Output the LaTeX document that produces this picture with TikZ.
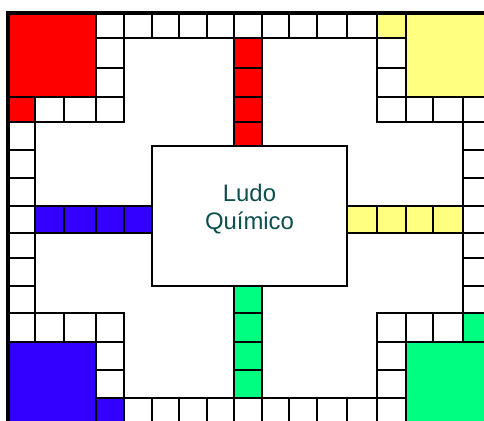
\documentclass[tikz,border=0pt]{standalone}
\usepackage{fontspec}
\setmainfont{Liberation Sans}
\usetikzlibrary{positioning}
\definecolor{homered}{HTML}{FF0000}
\definecolor{homeyellow}{HTML}{FFFF80}
\definecolor{homeblue}{HTML}{3300FF}
\definecolor{homegreen}{HTML}{00FF80}
\definecolor{titleteal}{HTML}{0B4F4F}

% grid lines of the board (columns and rows)
\def\colx{{8,35,64,96,124,152,179,207,234,262,289,317,347,377,406,433,463,491}}
\def\rowy{{13,38,68,97,122,150,178,206,233,258,286,313,342,370,398,426}}

% one square of the track: \trackcell[fill]{column}{row}
\newcommand{\trackcell}[3][white]{%
    \pgfmathsetmacro\cxa{\colx[#2]}\pgfmathsetmacro\cxb{\colx[#2+1]}%
    \pgfmathsetmacro\cya{\rowy[#3]}\pgfmathsetmacro\cyb{\rowy[#3+1]}%
    \draw[cell, fill=#1] (\cxa,\cya) rectangle (\cxb,\cyb);%
}
% a 3x3 home area: \homearea{fill}{column}{row}
\newcommand{\homearea}[3]{%
    \pgfmathsetmacro\cxa{\colx[#2]}\pgfmathsetmacro\cxb{\colx[#2+3]}%
    \pgfmathsetmacro\cya{\rowy[#3]}\pgfmathsetmacro\cyb{\rowy[#3+3]}%
    \draw[cell, fill=#1] (\cxa,\cya) rectangle (\cxb,\cyb);%
}

\begin{document}
\begin{tikzpicture}[
    x=0.02cm, y=-0.02cm,
    cell/.style={draw=black, line width=1.1pt},
    border/.style={draw=black, line width=2.6pt},
    centrebox/.style={
        rectangle, draw=black, fill=white, line width=1.1pt,
        minimum width=3.9cm, minimum height=2.8cm, inner sep=0pt
    },
    boardtitle/.style={
        font=\fontsize{13.6}{16}\selectfont, text=titleteal, align=center
    }
]
\useasboundingbox (0,0) rectangle (484,421);
\clip (0,0) rectangle (484,421);
\fill[white] (0,0) rectangle (484,421);

%% ---- Track ----

% top row
\foreach \cc in {3,...,12} {\trackcell{\cc}{0}}
\trackcell[homeyellow]{13}{0}

% bottom row
\trackcell[homeblue]{3}{14}
\foreach \cc in {4,...,13} {\trackcell{\cc}{14}}

% left column
\trackcell[homered]{0}{3}
\foreach \rr in {4,...,11} {\trackcell{0}{\rr}}

% right column
\foreach \rr in {3,...,10} {\trackcell{16}{\rr}}
\trackcell[homegreen]{16}{11}

% squares round the home areas
\foreach \cc/\rr in {3/1, 3/2, 1/3, 2/3, 3/3,
                     13/1, 13/2, 13/3, 14/3, 15/3,
                     1/11, 2/11, 3/11, 3/12, 3/13,
                     13/11, 14/11, 15/11, 13/12, 13/13} {\trackcell{\cc}{\rr}}

%% ---- Home columns ----
\foreach \rr in {1,...,4} {\trackcell[homered]{8}{\rr}}
\foreach \cc in {12,...,15} {\trackcell[homeyellow]{\cc}{7}}
\foreach \rr in {10,...,13} {\trackcell[homegreen]{8}{\rr}}
\foreach \cc in {1,...,4} {\trackcell[homeblue]{\cc}{7}}

%% ---- Home areas ----
\homearea{homered}{0}{0}
\homearea{homeyellow}{14}{0}
\homearea{homeblue}{0}{12}
\homearea{homegreen}{14}{12}

%% ---- Centre ----
\node[centrebox] (centre) at (249.5,216) {};
\node[boardtitle] (title) at ([yshift=0.13cm]centre.center) {Ludo\\Químico};

% outer frame
\draw[border] (8,13) rectangle (491,426);

\end{tikzpicture}
\end{document}
